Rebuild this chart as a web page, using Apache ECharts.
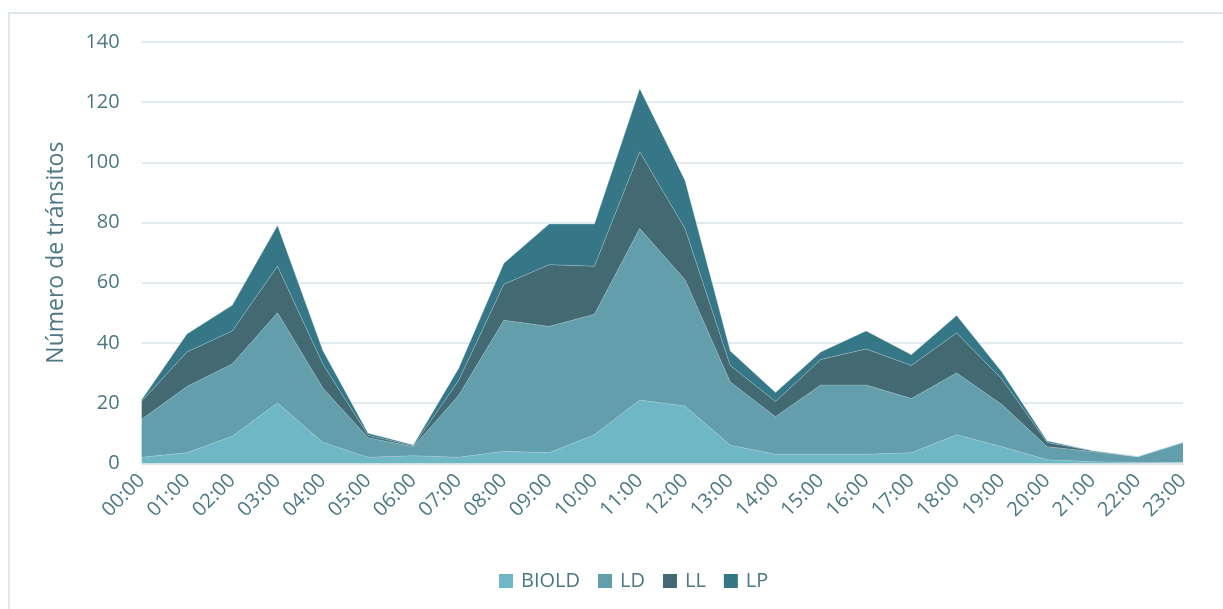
<!DOCTYPE html>
<html>
<head>
<meta charset="utf-8">
<script src="https://cdn.jsdelivr.net/npm/echarts@6/dist/echarts.min.js"></script>
<style>
    html, body { margin: 0; padding: 0; background: #fff; overflow: hidden; }
    #frame { position: absolute; left: 8px; top: 12px; width: 1240px; height: 640px; border: 2px solid #dce8ed; }
    #chart { position: absolute; left: 0; top: 0; width: 1223px; height: 609px; }
</style>
</head>
<body>
<div id="frame"></div>
<div id="chart"></div>
<script>
var horas = ["00:00", "01:00", "02:00", "03:00", "04:00", "05:00", "06:00", "07:00", "08:00", "09:00", "10:00", "11:00",
    "12:00", "13:00", "14:00", "15:00", "16:00", "17:00", "18:00", "19:00", "20:00", "21:00", "22:00", "23:00"];

var biold = [2, 3.5, 9, 20, 7, 2, 2.5, 2, 4, 3.5, 9.5, 21, 19, 6, 3, 3, 3, 3.5, 9.5, 5.5, 1.2, 0.5, 0.3, 0.3];
var ld = [12.6, 22, 24, 30, 18, 6.5, 3, 20.5, 43.5, 42, 40, 57, 42, 21, 12.5, 23, 23, 18, 20.5, 14, 4.3, 3.4, 1.9, 6.6];
var ll = [6, 11.5, 11, 15.5, 8, 0.8, 0.3, 5, 12, 20.5, 16, 25.5, 17, 5.5, 5, 8.5, 12, 11, 13.3, 8.5, 1.4, 0.3, 0, 0];
var lp = [0.5, 6, 8.5, 13.5, 4.5, 0.7, 0.3, 4, 7, 13.5, 14, 21, 16, 4.8, 3, 2.5, 6, 3.6, 5.8, 2.3, 0.5, 0, 0, 0];

var yTicks = { min: 0, max: 140, interval: 20 };

var txtColor = "#4b7883";
var fontName = "'Open Sans', sans-serif";

function serie(nombre, datos, color) {
    return {
        name: nombre,
        type: "line",
        stack: "total",
        data: datos,
        symbol: "none",
        lineStyle: { width: 0.6, color: "rgba(190,225,232,0.55)" },
        areaStyle: { color: color, opacity: 1 },
        itemStyle: { color: color },
        emphasis: { disabled: true }
    };
}

var option = {
    animation: false,
    textStyle: { fontFamily: fontName },
    grid: { left: 141.7, right: 40, top: 42, bottom: 145.7, containLabel: false },
    legend: {
        top: 566,
        left: 494,
        itemWidth: 14,
        itemHeight: 14,
        itemGap: 18,
        icon: "rect",
        textStyle: { color: txtColor, fontSize: 20, fontFamily: fontName, padding: [0, 0, 0, 3] },
        data: ["BIOLD", "LD", "LL", "LP"]
    },
    xAxis: {
        type: "category",
        boundaryGap: false,
        data: horas,
        axisLine: { lineStyle: { color: "#d7e5ea", width: 1.5 } },
        axisTick: { show: false },
        axisLabel: { rotate: 45, color: txtColor, fontSize: 20, margin: 14, interval: 0 }
    },
    yAxis: {
        type: "value",
        min: yTicks.min,
        max: yTicks.max,
        interval: yTicks.interval,
        name: "Número de tránsitos",
        nameLocation: "middle",
        nameGap: 74,
        nameRotate: 90,
        nameTextStyle: { color: txtColor, fontSize: 23, fontFamily: fontName },
        axisLine: { show: false },
        axisTick: { show: false },
        axisLabel: { color: txtColor, fontSize: 20, margin: 22 },
        splitLine: { lineStyle: { color: "#d7e5ea", width: 1.5 } }
    },
    series: [
        serie("BIOLD", biold, "#70b7c6"),
        serie("LD", ld, "#629eab"),
        serie("LL", ll, "#436a72"),
        serie("LP", lp, "#357786")
    ]
};

var myChart = echarts.init(document.getElementById("chart"));
myChart.setOption(option);
</script>
</body>
</html>
